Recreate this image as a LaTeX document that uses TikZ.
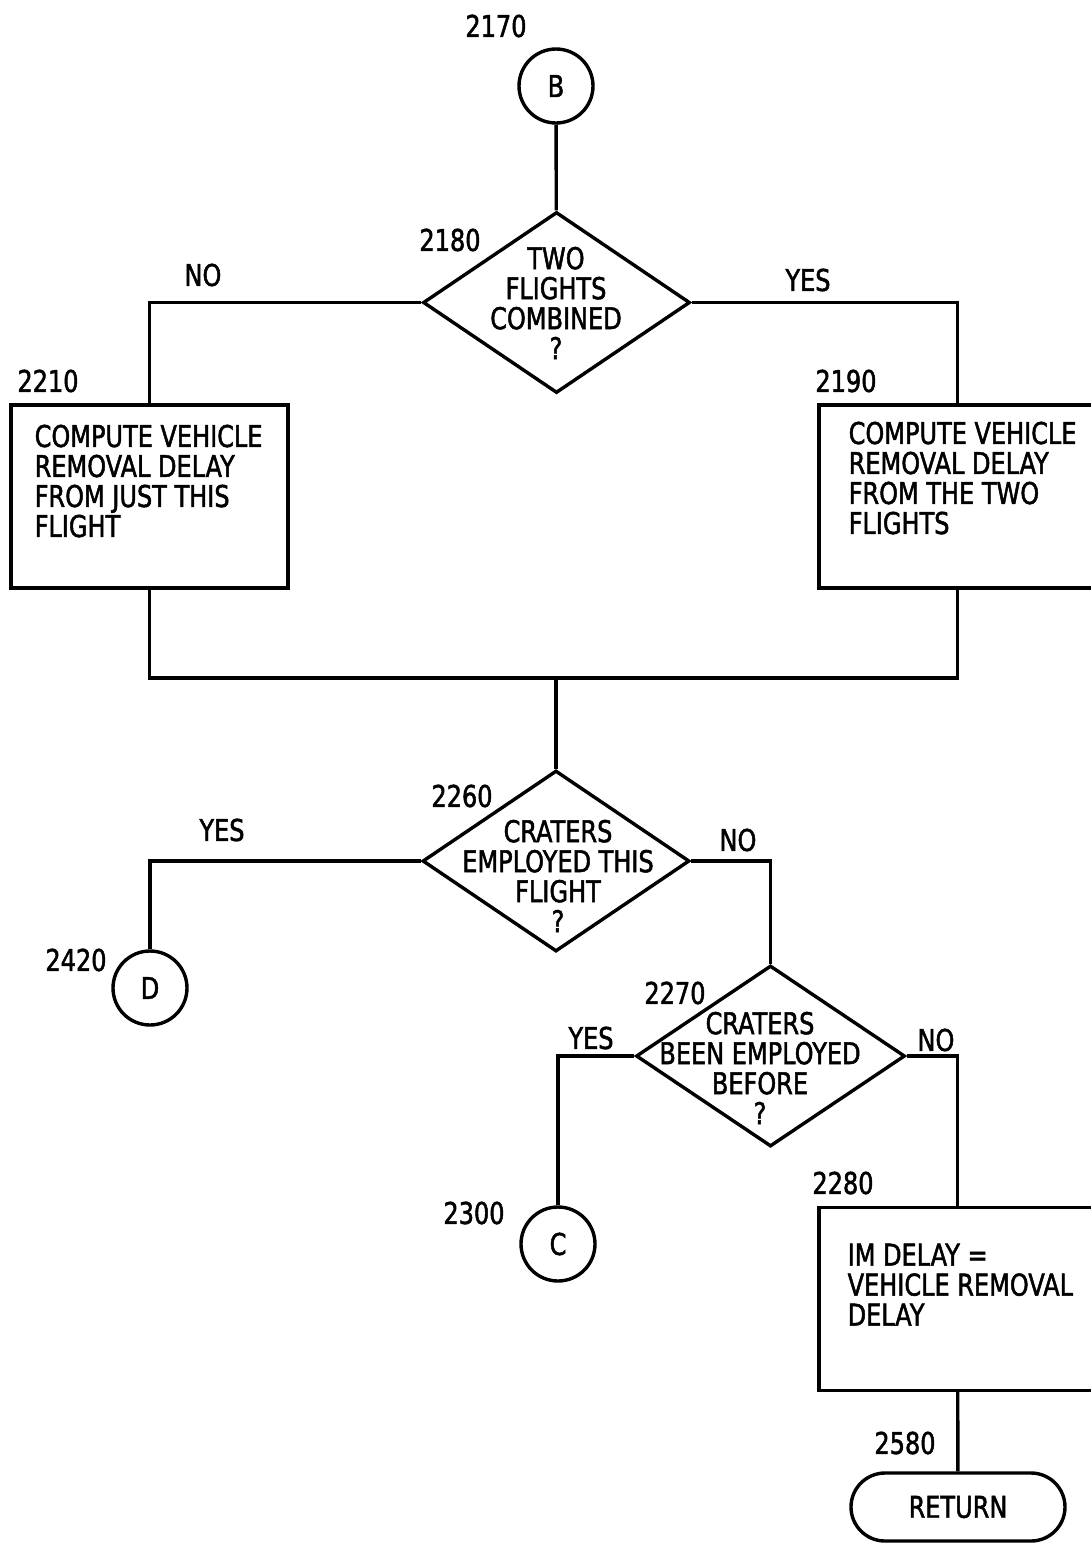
\documentclass[tikz,border=0pt]{standalone}
\usepackage{fontspec}
\setmainfont{DejaVu Sans}[FakeStretch=0.8,FakeBold=1.6]
\usetikzlibrary{shapes.geometric,shapes.misc}
\begin{document}
\begin{tikzpicture}[x=0.5pt,y=-0.5pt,line width=1.7pt,
  every node/.style={font=\fontsize{15}{15}\selectfont,inner sep=0pt},
  proc/.style={draw,rectangle,minimum width=138.5pt,minimum height=91.5pt},
  dec/.style={draw,diamond,minimum width=133.5pt,minimum height=90.5pt},
  conn/.style={draw,circle,minimum size=37pt},
  term/.style={draw,rounded rectangle,minimum width=107pt,minimum height=34pt},
  txt/.style={align=left,anchor=north west},
  ctxt/.style={align=center},
  lbl/.style={}]
\useasboundingbox (0,0) rectangle (1091,1543);
% shapes
\node[conn] (B) at (556,86) {B};
\node[dec] (d1) at (556.5,302.5) {};
\node[ctxt] (d1t) at (556,303) {TWO\\FLIGHTS\\COMBINED\\?};
\node[proc] (b2210) at (149.5,496.5) {};
\node[txt] (b2210t) at (33,423) {COMPUTE VEHICLE\\REMOVAL DELAY\\FROM JUST THIS\\FLIGHT};
\node[proc] (b2190) at (957.5,496.5) {};
\node[txt] (b2190t) at (847,420) {COMPUTE VEHICLE\\REMOVAL DELAY\\FROM THE TWO\\FLIGHTS};
\coordinate (j) at (556,678);
\node[dec] (d2) at (556,861) {};
\node[ctxt] (d2t) at (558,876) {CRATERS\\EMPLOYED THIS\\FLIGHT\\?};
\node[conn] (D) at (150,988) {D};
\node[dec,minimum width=134.5pt] (d3) at (770.5,1056) {};
\node[ctxt] (d3t) at (760,1068) {CRATERS\\BEEN EMPLOYED\\BEFORE\\?};
\node[conn] (C) at (558,1244) {C};
\node[proc] (b2280) at (957.5,1299) {};
\node[txt] (b2280t) at (846,1242) {IM DELAY =\\VEHICLE REMOVAL\\DELAY};
\node[term] (ret) at (958,1507) {RETURN};
% labels
\node[lbl] (l2170) at (496,26) {2170};
\node[lbl] (l2180) at (450,240) {2180};
\node[lbl] (lno1) at (203,275) {NO};
\node[lbl] (lyes1) at (808,280) {YES};
\node[lbl] (l2210) at (48,381) {2210};
\node[lbl] (l2190) at (846,381) {2190};
\node[lbl] (l2260) at (462,796) {2260};
\node[lbl] (lyes2) at (222,830) {YES};
\node[lbl] (lno2) at (738,840) {NO};
\node[lbl] (l2420) at (76,960) {2420};
\node[lbl] (l2270) at (675,993) {2270};
\node[lbl] (lyes3) at (591,1038) {YES};
\node[lbl] (lno3) at (936,1040) {NO};
\node[lbl] (l2300) at (474,1213) {2300};
\node[lbl] (l2280) at (843,1183) {2280};
\node[lbl] (l2580) at (905,1443) {2580};
% connectors
\draw (B) -- (d1);
\draw (d1.west) -| (b2210.north);
\draw (d1.east) -| (b2190.north);
\draw (b2210.south) |- (j) -| (b2190.south);
\draw (j) -- (d2);
\draw (d2.west) -| (D);
\draw (d2.east) -| (d3);
\draw (d3.west) -| (C);
\draw (d3.east) -| (b2280.north);
\draw (b2280) -- (ret);
\end{tikzpicture}
\end{document}
